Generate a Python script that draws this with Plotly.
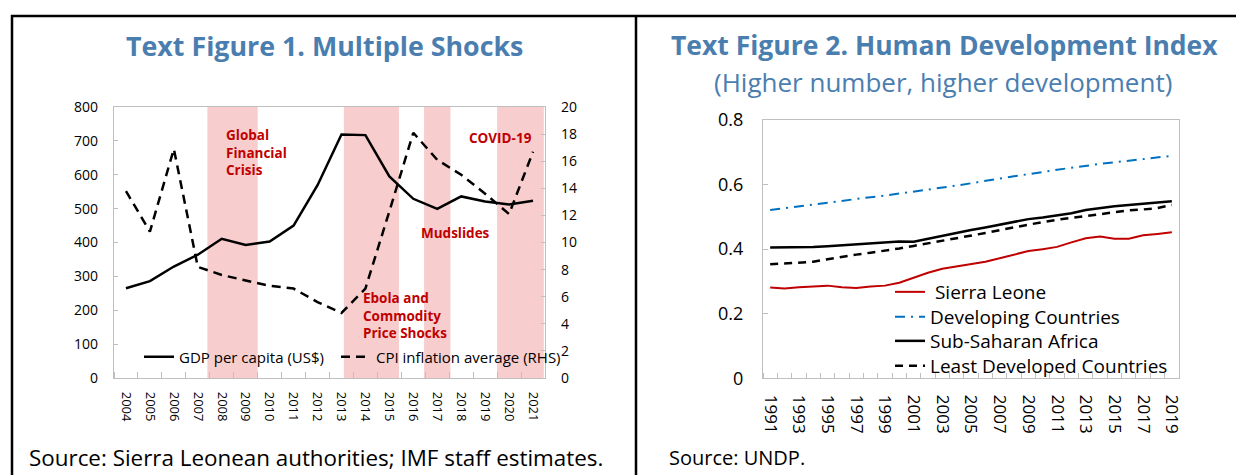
import plotly.graph_objects as go

W, H = 1236, 475

def px(x):
    return x / W

def py(y):
    return 1 - y / H

# ---------------- data: Text Figure 1 ----------------
years1 = [2004, 2005, 2006, 2007, 2008, 2009, 2010, 2011, 2012,
          2013, 2014, 2015, 2016, 2017, 2018, 2019, 2020, 2021]
gdp_per_capita = [265, 286, 329, 364, 411, 393, 403, 450, 569,
                  719, 717, 595, 529, 499, 536, 521, 512, 523]
cpi_inflation = [13.8, 10.8, 16.9, 8.2, 7.6, 7.2, 6.8, 6.6, 5.6,
                 4.8, 6.6, 12.3, 18.1, 16.1, 15.0, 13.6, 12.1, 16.7]
shock_start = [2007.4, 2013.1, 2016.45, 2019.5]
shock_end = [2009.5, 2015.4, 2017.55, 2021.45]

# ---------------- data: Text Figure 2 ----------------
years2 = list(range(1991, 2020))
sierra_leone = [0.281, 0.278, 0.282, 0.284, 0.287, 0.282, 0.280, 0.284, 0.287, 0.296,
                0.312, 0.327, 0.339, 0.346, 0.353, 0.361, 0.372, 0.384, 0.394, 0.400,
                0.407, 0.421, 0.434, 0.439, 0.432, 0.432, 0.443, 0.447, 0.452]
developing = [0.521, 0.527, 0.533, 0.538, 0.544, 0.550, 0.555, 0.561, 0.566, 0.572,
              0.577, 0.583, 0.590, 0.597, 0.604, 0.612, 0.619, 0.626, 0.632, 0.640,
              0.646, 0.652, 0.659, 0.664, 0.669, 0.674, 0.679, 0.684, 0.689]
ssa = [0.405, 0.405, 0.406, 0.407, 0.409, 0.412, 0.415, 0.419, 0.422, 0.424,
       0.423, 0.432, 0.443, 0.450, 0.459, 0.467, 0.476, 0.485, 0.493, 0.498,
       0.504, 0.511, 0.521, 0.528, 0.533, 0.537, 0.540, 0.543, 0.548]
ldc = [0.353, 0.355, 0.357, 0.361, 0.369, 0.377, 0.383, 0.389, 0.395, 0.402,
       0.410, 0.418, 0.425, 0.432, 0.441, 0.450, 0.459, 0.468, 0.476, 0.484,
       0.491, 0.497, 0.503, 0.509, 0.516, 0.520, 0.523, 0.527, 0.537]
hdi_tick_years = years2[::2]

FONT = "Open Sans"
BLUE_T = "#4A7EAF"
RED = "#C00000"
GRAY = "#BFBFBF"

fig = go.Figure()

fig.add_trace(go.Scatter(x=years1, y=gdp_per_capita, mode="lines",
                         name="GDP per capita (US$)",
                         line=dict(color="black", width=2.5),
                         xaxis="x", yaxis="y", legend="legend"))
fig.add_trace(go.Scatter(x=years1, y=cpi_inflation, mode="lines",
                         name="CPI inflation average (RHS)",
                         line=dict(color="black", width=2.5, dash="9px,6px"),
                         xaxis="x", yaxis="y2", legend="legend2"))

fig.add_trace(go.Scatter(x=years2, y=sierra_leone, mode="lines",
                         name="\u00a0Sierra Leone",
                         line=dict(color=RED, width=2),
                         xaxis="x2", yaxis="y3", legend="legend3"))
fig.add_trace(go.Scatter(x=years2, y=developing, mode="lines",
                         name="Developing Countries",
                         line=dict(color="#0070C0", width=2, dash="10px,6px,2px,6px"),
                         xaxis="x2", yaxis="y3", legend="legend4"))
fig.add_trace(go.Scatter(x=years2, y=ssa, mode="lines",
                         name="Sub-Saharan Africa",
                         line=dict(color="black", width=2.5),
                         xaxis="x2", yaxis="y3", legend="legend5"))
fig.add_trace(go.Scatter(x=years2, y=ldc, mode="lines",
                         name="Least Developed Countries",
                         line=dict(color="black", width=2.5, dash="8px,6px"),
                         xaxis="x2", yaxis="y3", legend="legend6"))

shapes = []
for s0, s1 in zip(shock_start, shock_end):
    shapes.append(dict(type="rect", xref="x", yref="y", x0=s0, x1=s1, y0=0, y1=800,
                       fillcolor="#F7CDCD", line=dict(width=0), layer="below"))
# panel borders
bl = dict(color="black", width=2.5)
shapes.append(dict(type="line", xref="paper", yref="paper", x0=px(11), x1=1, y0=py(16), y1=py(16), line=bl))
shapes.append(dict(type="line", xref="paper", yref="paper", x0=px(12), x1=px(12), y0=py(15), y1=0, line=bl))
shapes.append(dict(type="line", xref="paper", yref="paper", x0=px(636), x1=px(636), y0=py(15), y1=0, line=bl))

tick_font1 = dict(family=FONT, size=14, color="black")
axis_common = dict(showgrid=False, zeroline=False, showline=True, linecolor=GRAY, linewidth=1.3,
                   automargin=False)

x1_bounds = [y - 0.5 for y in years1] + [years1[-1] + 0.5]
x2_bounds = [y - 0.5 for y in years2] + [years2[-1] + 0.5]

def leg(x, y, size, anchor="middle"):
    return dict(x=px(x), y=py(y), xanchor="left", yanchor=anchor, bgcolor="rgba(0,0,0,0)",
                font=dict(family=FONT, size=size), orientation="h")

layout = dict(
    width=W, height=H, autosize=False,
    margin=dict(l=0, r=0, t=0, b=0, pad=0, autoexpand=False),
    paper_bgcolor="white", plot_bgcolor="rgba(0,0,0,0)",
    font=dict(family=FONT, color="black"),
    xaxis=dict(domain=[px(114), px(545)], anchor="y", range=[years1[0] - 0.5, years1[-1] + 0.5],
               tickmode="array", tickvals=years1, ticktext=[str(v) for v in years1],
               tickangle=90, ticks="", tickfont=dict(family=FONT, size=13), mirror=True,
               ticklabelstandoff=10,
               minor=dict(tickmode="array", tickvals=x1_bounds, ticks="inside", ticklen=6, tickcolor=GRAY),
               **axis_common),
    yaxis=dict(domain=[py(378), py(107)], anchor="x", range=[0, 800], dtick=100,
               ticks="inside", ticklen=4, tickcolor=GRAY, tickfont=tick_font1,
               ticklabelstandoff=12, **axis_common),
    yaxis2=dict(overlaying="y", side="right", anchor="x", range=[0, 20], dtick=2,
                ticks="inside", ticklen=4, tickcolor=GRAY, tickfont=tick_font1,
                ticklabelstandoff=12, **axis_common),
    xaxis2=dict(domain=[px(763), px(1179)], anchor="y3", range=[years2[0] - 0.5, years2[-1] + 0.5],
                tickmode="array", tickvals=hdi_tick_years, ticktext=[str(v) for v in hdi_tick_years],
                tickangle=90, ticks="", tickfont=dict(family=FONT, size=17), mirror=True,
                minor=dict(tickmode="array", tickvals=x2_bounds, ticks="inside", ticklen=5, tickcolor=GRAY),
                ticklabelstandoff=12, **axis_common),
    yaxis3=dict(domain=[py(378.3), py(120)], anchor="x2", range=[0, 0.8],
                tickvals=[0, 0.2, 0.4, 0.6, 0.8], ticktext=["0", "0.2", "0.4", "0.6", "0.8"],
                ticks="inside", ticklen=5, tickcolor=GRAY, tickfont=dict(family=FONT, size=18),
                mirror=True, ticklabelstandoff=15, **axis_common),
    legend=leg(139, 357, 15),
    legend2=leg(336, 357, 15),
    legend3=leg(890, 292, 19),
    legend4=leg(890, 317, 19),
    legend5=leg(890, 341, 19),
    legend6=leg(890, 366, 19),
    shapes=shapes,
    showlegend=True,
)
fig.update_layout(**layout)

ann_red = dict(family=FONT, size=13.5, color=RED, weight="bold")
annotations = [
    dict(text="Text Figure 1. Multiple Shocks", x=px(324), y=py(46), xref="paper", yref="paper",
         showarrow=False, xanchor="center", yanchor="middle",
         font=dict(family=FONT, size=26.8, color=BLUE_T, weight="bold")),
    dict(text="Text Figure 2. Human Development Index", x=px(944), y=py(45), xref="paper", yref="paper",
         showarrow=False, xanchor="center", yanchor="middle",
         font=dict(family=FONT, size=26.5, color=BLUE_T, weight="bold")),
    dict(text="(Higher number, higher development)", x=px(943), y=py(82), xref="paper", yref="paper",
         showarrow=False, xanchor="center", yanchor="middle",
         font=dict(family=FONT, size=26, color=BLUE_T)),
    dict(text="Source: Sierra Leonean authorities; IMF staff estimates.", x=px(27), y=py(457),
         xref="paper", yref="paper", showarrow=False, xanchor="left", yanchor="middle",
         font=dict(family=FONT, size=22.4, color="black")),
    dict(text="Source: UNDP.", x=px(667), y=py(457),
         xref="paper", yref="paper", showarrow=False, xanchor="left", yanchor="middle",
         font=dict(family=FONT, size=20, color="black")),
    dict(text="Global<br>Financial<br>Crisis", x=px(224), y=py(153), xref="paper", yref="paper",
         showarrow=False, xanchor="left", yanchor="middle", align="left", font=ann_red),
    dict(text="COVID-19", x=px(500), y=py(138), xref="paper", yref="paper",
         showarrow=False, xanchor="center", yanchor="middle", font=ann_red),
    dict(text="Mudslides", x=px(455), y=py(233), xref="paper", yref="paper",
         showarrow=False, xanchor="center", yanchor="middle", font=ann_red),
    dict(text="Ebola and<br>Commodity<br>Price Shocks", x=px(361), y=py(315), xref="paper", yref="paper",
         showarrow=False, xanchor="left", yanchor="middle", align="left", font=ann_red),
]
fig.update_layout(annotations=annotations)

fig.write_html("out.html", config={"displayModeBar": False},
               post_script="document.body.style.margin='0';")
